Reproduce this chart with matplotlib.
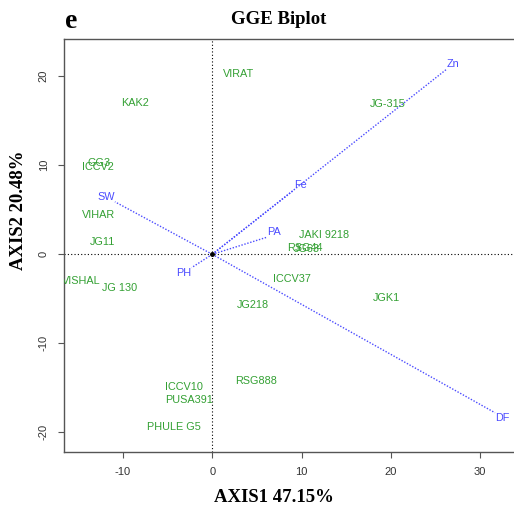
import numpy as np
import matplotlib
matplotlib.use("Agg")
import matplotlib.pyplot as plt

plt.rcParams["axes.unicode_minus"] = False

# genotypes (green labels), position = label centre
genotypes = ["VIRAT", "KAK2", "GG3", "ICCV2", "VIHAR", "JG11", "VISHAL", "JG 130",
             "JG-315", "JAKI 9218", "RSG44", "JG63", "ICCV37", "JG218", "JGK1",
             "RSG888", "ICCV10", "PUSA391", "PHULE G5"]
gen_x = [2.96, -8.6, -12.67, -12.77, -12.72, -12.26, -14.64, -10.43,
         19.6, 12.47, 10.38, 10.6, 8.94, 4.56, 19.47,
         4.93, -3.13, -2.57, -4.32]
gen_y = [20.3, 17.0, 10.3, 9.84, 4.42, 1.35, -2.97, -3.82,
         16.85, 2.17, 0.74, 0.6, -2.81, -5.70, -4.94,
         -14.2, -14.88, -16.37, -19.37]

# traits (blue vectors)
traits = ["Zn", "Fe", "SW", "PA", "PH", "DF"]
trait_x = [26.25, 9.15, -10.9, 6.09, -2.31, 31.66]
trait_y = [20.8, 7.22, 5.9, 1.91, -1.5, -17.8]

green = "#33a033"
blue = "#4b4bff"

fig = plt.figure(figsize=(5.14, 5.11), dpi=100)
ax = fig.add_axes([64/514, 59/511, (540-64)/514, 413/511])
ax.set_xlim(-16.6, 36.7)
ax.set_ylim(-22.21, 24.19)

ax.axhline(0, color="black", lw=0.8, ls=(0, (1, 2)))
ax.axvline(0, color="black", lw=0.8, ls=(0, (1, 2)))

for name, x, y in zip(traits, trait_x, trait_y):
    ax.plot([0, x], [0, y], color=blue, lw=1.0, ls=(0, (1, 1.2)))
    ax.text(x, y, name, color=blue, fontsize=7.8, family="Liberation Sans",
            ha="left" if x > 0 else "right", va="bottom" if y > 0 else "top")

for name, x, y in zip(genotypes, gen_x, gen_y):
    ax.text(x, y, name, color=green, fontsize=7.8, family="Liberation Sans",
            ha="center", va="center", clip_on=True)

ax.plot(0, 0, "o", color="black", ms=2.5)

ax.set_xticks([-10, 0, 10, 20, 30])
ax.set_yticks([-20, -10, 0, 10, 20])
ax.tick_params(length=4, width=0.8, color="#555555", labelsize=8,
               labelcolor="#333333", pad=7)
for lab in ax.get_xticklabels() + ax.get_yticklabels():
    lab.set_family("Liberation Sans")
for lab in ax.get_yticklabels():
    lab.set_rotation(90)
    lab.set_va("center")
for sp in ax.spines.values():
    sp.set_color("#555555")
    sp.set_linewidth(1.0)

fig.text(279/514, 1-19/511, "GGE Biplot", family="Liberation Serif",
         weight="bold", fontsize=13.5, ha="center", va="center")
fig.text(71/514, 1-22/511, "e", family="Liberation Serif",
         weight="bold", fontsize=20, ha="center", va="center")
fig.text(274/514, 1-497/511, "AXIS1 47.15%", family="Liberation Serif",
         weight="bold", fontsize=13.5, ha="center", va="center")
fig.text(19/514, 1-210/511, "AXIS2 20.48%", family="Liberation Serif",
         weight="bold", fontsize=13.5, ha="center", va="center", rotation=90)

fig.savefig("out.png", dpi=100)
